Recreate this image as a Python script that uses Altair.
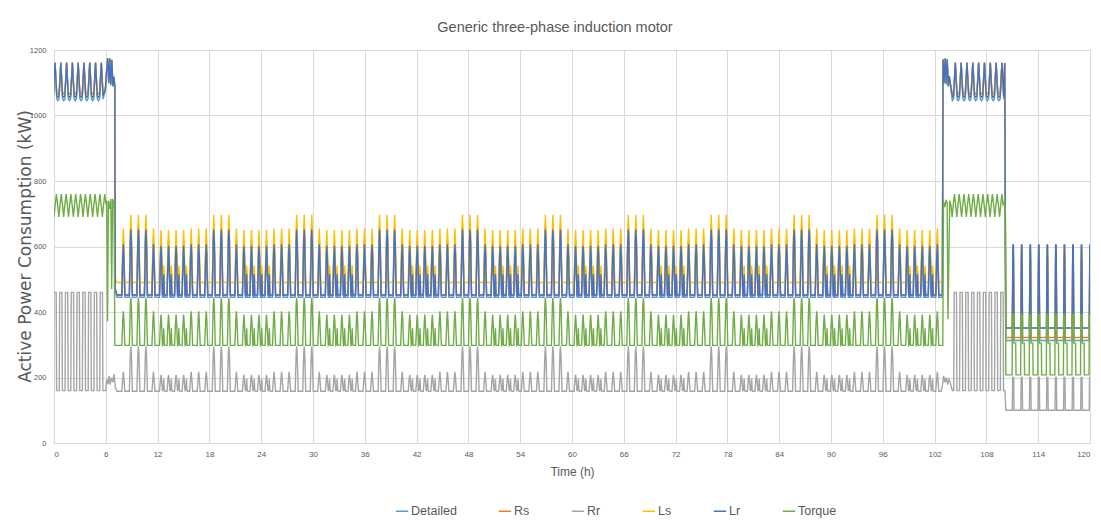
import altair as alt
import pandas as pd

SERIES = ["Detailed", "Rs", "Rr", "Ls", "Lr", "Torque"]
COLORS = ["#5B9BD5", "#ED7D31", "#A5A5A5", "#FFC000", "#4472C4", "#70AD47"]
X_TICKS = [0, 6, 12, 18, 24, 30, 36, 42, 48, 54, 60, 66, 72, 78, 84, 90, 96, 102, 108, 114, 120]
Y_TICKS = [0, 200, 400, 600, 800, 1000, 1200]

# ---- high-load segments (0-6 h and 103-110 h): cycle timing
A_START, A_PERIOD, A_CYCLES = 0.12, 0.67, 9
C_START, C_PERIOD, C_CYCLES = 104.4, 0.675, 9
TQ_A_START, TQ_A_PERIOD, TQ_A_CYCLES = 0.28, 0.56, 11
TQ_C_START, TQ_C_PERIOD, TQ_C_CYCLES = 104.3, 0.55, 11

HI_OFFSETS = [-0.5, -0.3, -0.15, 0.0, 0.15, 0.3]
RR_HI_OFFSETS = [-0.5, -0.27, -0.2, 0.2, 0.27]
TQ_HI_OFFSETS = [-0.5, -0.25, 0.0, 0.25]
HI_VALUES = {
    "Detailed": [1045, 1050, 1105, 1160, 1105, 1050],
    "Rs": [1066, 1070, 1115, 1160, 1115, 1070],
    "Ls": [1056, 1060, 1110, 1162, 1110, 1060],
    "Lr": [1056, 1060, 1110, 1162, 1110, 1060],
    "Rr": [160, 160, 460, 460, 160],
    "Torque": [690, 728, 760, 728],
}

# ---- normal operation 7-103 h: cycle types N (normal), T (tall), S (with small bump)
B_START, B_PERIOD = 8.03, 0.873
B_GROUPS = ["N",
            "TTTNSSSSNNN", "TTTNSSSSNNN", "TTTNSSSSNNN",
            "TTTNSSSSNNN", "TTTNSSSSNNN", "TTTNSSSSNNN",
            "TTTNSSSSNNN", "TTTNSSSSNNN", "TTTNSSSSNNN",
            "TTTNSSSSN"]
B_OFFSETS = {
    "N": [-0.5, -0.2, -0.07, 0.0, 0.07, 0.2],
    "T": [-0.5, -0.2, -0.07, 0.0, 0.07, 0.2],
    "S": [-0.5, -0.2, -0.07, 0.0, 0.07, 0.2, 0.3, 0.37, 0.44],
}
B_VALUES = {
    "Detailed": {"N": [445, 445, 560, 598, 560, 445], "T": [445, 445, 600, 640, 600, 445],
                 "S": [445, 445, 555, 592, 555, 445, 445, 500, 445]},
    "Rs": {"N": [452, 452, 585, 625, 585, 452], "T": [452, 452, 625, 665, 625, 452],
           "S": [452, 452, 580, 620, 580, 452, 452, 530, 452]},
    "Rr": {"N": [158, 158, 200, 217, 200, 158], "T": [158, 158, 270, 295, 270, 158],
           "S": [158, 158, 195, 208, 195, 158, 165, 196, 160]},
    "Ls": {"N": [490, 490, 615, 655, 615, 490], "T": [490, 490, 655, 697, 655, 490],
           "S": [490, 490, 610, 650, 610, 490, 490, 542, 490]},
    "Lr": {"N": [452, 452, 572, 607, 572, 452], "T": [452, 452, 615, 652, 615, 452],
           "S": [452, 452, 568, 602, 568, 452, 452, 515, 452]},
    "Torque": {"N": [298, 298, 378, 402, 378, 298], "T": [298, 298, 420, 443, 420, 298],
               "S": [298, 298, 368, 392, 368, 298, 300, 350, 300]},
}

# ---- low-load segment 110-120 h
D_START, D_PERIOD, D_CYCLES = 111.1, 0.99, 10
D_OFFSETS = {
    "Detailed": [-0.5, -0.1, -0.03, 0.03, 0.1],
    "Rs": [-0.5, -0.1, -0.03, 0.03, 0.1],
    "Ls": [-0.5, -0.1, -0.03, 0.03, 0.1],
    "Lr": [-0.5, -0.1, -0.03, 0.03, 0.1],
    "Rr": [-0.5, -0.1, -0.06, 0.06, 0.1],
    "Torque": [-0.5, -0.12, -0.09, 0.06, 0.09, 0.3, 0.33],
}
D_VALUES = {
    "Detailed": [313, 313, 560, 560, 313],
    "Rs": [322, 322, 575, 575, 322],
    "Ls": [351, 351, 600, 600, 351],
    "Lr": [351, 351, 605, 605, 351],
    "Rr": [100, 100, 200, 200, 100],
    "Torque": [208, 208, 392, 392, 305, 305, 208],
}

# ---- transitions (time h, kW)
T1 = {
    "Detailed": [(5.95, 1075), (6.1, 1140), (6.22, 1172), (6.34, 1098), (6.46, 1172), (6.58, 1092), (6.7, 1168), (6.82, 1088), (6.94, 1115), (7.04, 1088), (7.1, 465), (7.3, 445)],
    "Rs": [(5.95, 1080), (6.1, 1140), (6.22, 1172), (6.34, 1105), (6.46, 1172), (6.58, 1100), (6.7, 1168), (6.82, 1095), (6.94, 1115), (7.04, 1092), (7.1, 470), (7.3, 452)],
    "Ls": [(5.95, 1080), (6.1, 1140), (6.22, 1175), (6.34, 1100), (6.46, 1175), (6.58, 1095), (6.7, 1170), (6.82, 1090), (6.94, 1118), (7.04, 1090), (7.12, 500), (7.3, 490)],
    "Lr": [(5.95, 1080), (6.1, 1140), (6.22, 1175), (6.34, 1100), (6.46, 1175), (6.58, 1095), (6.7, 1170), (6.82, 1090), (6.94, 1118), (7.04, 1090), (7.1, 470), (7.3, 452)],
    "Rr": [(6.0, 160), (6.1, 195), (6.25, 180), (6.38, 205), (6.5, 178), (6.65, 200), (6.8, 185), (6.95, 210), (7.1, 170), (7.3, 158)],
    "Torque": [(6.1, 740), (6.2, 372), (6.3, 740), (6.45, 715), (6.58, 745), (6.68, 470), (6.78, 745), (6.95, 730), (7.05, 298), (7.3, 298)],
}
T2 = {
    "Detailed": [(102.9, 445), (102.98, 1168), (103.1, 1098), (103.22, 1172), (103.34, 1095), (103.46, 1170), (103.58, 1088), (103.7, 1115)],
    "Rs": [(102.9, 452), (102.98, 1168), (103.1, 1105), (103.22, 1172), (103.34, 1100), (103.46, 1170), (103.58, 1095), (103.7, 1115)],
    "Ls": [(102.9, 490), (102.98, 1172), (103.1, 1100), (103.22, 1175), (103.34, 1098), (103.46, 1172), (103.58, 1090), (103.7, 1120)],
    "Lr": [(102.9, 452), (102.98, 1172), (103.1, 1100), (103.22, 1175), (103.34, 1098), (103.46, 1172), (103.58, 1090), (103.7, 1120)],
    "Rr": [(102.75, 158), (102.9, 175), (103.05, 205), (103.2, 185), (103.35, 200), (103.5, 178), (103.65, 195), (103.8, 185), (103.95, 170)],
    "Torque": [(102.95, 298), (103.03, 738), (103.18, 720), (103.32, 740), (103.45, 735), (103.55, 378), (103.75, 740), (103.9, 725)],
}
T3 = {
    "Detailed": [(110.12, 1160), (110.25, 313)],
    "Rs": [(110.12, 1160), (110.25, 322)],
    "Ls": [(110.12, 1160), (110.25, 351)],
    "Lr": [(110.12, 1160), (110.25, 351)],
    "Rr": [(110.15, 160), (110.25, 100)],
    "Torque": [(110.15, 740), (110.25, 208)],
}


def cycles(start, period, n, offsets, values):
    pts = []
    for k in range(n):
        c = start + period * k
        pts += [(c + o * period, v) for o, v in zip(offsets, values)]
    return pts


def b_cycles(name):
    pts = []
    for k, typ in enumerate("".join(B_GROUPS)):
        c = B_START + B_PERIOD * k
        pts += [(c + o * B_PERIOD, v) for o, v in zip(B_OFFSETS[typ], B_VALUES[name][typ])]
    return pts


rows = []
for name in SERIES:
    if name == "Torque":
        a = cycles(TQ_A_START, TQ_A_PERIOD, TQ_A_CYCLES, TQ_HI_OFFSETS, HI_VALUES[name])
        c = cycles(TQ_C_START, TQ_C_PERIOD, TQ_C_CYCLES, TQ_HI_OFFSETS, HI_VALUES[name])
    elif name == "Rr":
        a = cycles(A_START, A_PERIOD, A_CYCLES, RR_HI_OFFSETS, HI_VALUES[name])
        c = cycles(C_START, C_PERIOD, C_CYCLES, RR_HI_OFFSETS, HI_VALUES[name])
    else:
        a = cycles(A_START, A_PERIOD, A_CYCLES, HI_OFFSETS, HI_VALUES[name])
        c = cycles(C_START, C_PERIOD, C_CYCLES, HI_OFFSETS, HI_VALUES[name])
    d = cycles(D_START, D_PERIOD, D_CYCLES, D_OFFSETS[name], D_VALUES[name])
    pts = a + T1[name] + b_cycles(name) + T2[name] + c + T3[name] + d
    for t, v in pts:
        rows.append({"t": t, "v": v, "s": name})

df = pd.DataFrame(rows)

FONT = "Liberation Sans, Arial"
GREY = "#595959"

chart = alt.Chart(df).mark_line(strokeWidth=1.4, clip=True).encode(
    x=alt.X("t:Q", title="Time (h)",
            scale=alt.Scale(domain=[0, 120], nice=False, zero=False),
            axis=alt.Axis(values=X_TICKS, format="d", grid=True, gridColor="#D9D9D9",
                          domainColor="#D9D9D9", ticks=False, labelFontSize=8, labelFont=FONT,
                          labelColor=GREY, labelPadding=7, titleFont=FONT, titleFontSize=12,
                          titleColor=GREY, titleFontWeight="normal", titlePadding=8)),
    y=alt.Y("v:Q", title="Active Power Consumption (kW)",
            scale=alt.Scale(domain=[0, 1200], nice=False),
            axis=alt.Axis(values=Y_TICKS, format="d", grid=True, gridColor="#D9D9D9",
                          domain=False, ticks=False, labelFontSize=7.5, labelFont=FONT,
                          labelColor=GREY, labelPadding=8, titleFont="DejaVu Sans",
                          titleFontSize=17, titleColor=GREY, titleFontWeight="normal",
                          titleAngle=270, titleBaseline="middle", titleAlign="center",
                          titleX=-29, titleY=196)),
    color=alt.Color("s:N", scale=alt.Scale(domain=SERIES, range=COLORS),
                    legend=alt.Legend(orient="none", legendX=341, legendY=454,
                                      direction="horizontal", title=None, symbolType="stroke",
                                      symbolStrokeWidth=1.5, symbolSize=150, labelFontSize=12.5,
                                      labelFont=FONT, labelColor=GREY, columnPadding=38,
                                      labelOffset=2)),
).properties(
    width=1036, height=393,
    title=alt.TitleParams("Generic three-phase induction motor", fontSize=14.5, font=FONT,
                          color=GREY, fontWeight="normal", anchor="middle", dx=-17, offset=11),
    padding={"left": 46, "top": 42, "right": 3, "bottom": 78},
    autosize="none",
).configure_view(strokeWidth=0).configure(background="white")

chart.save("out.html", embed_options={"renderer": "svg", "actions": False})
